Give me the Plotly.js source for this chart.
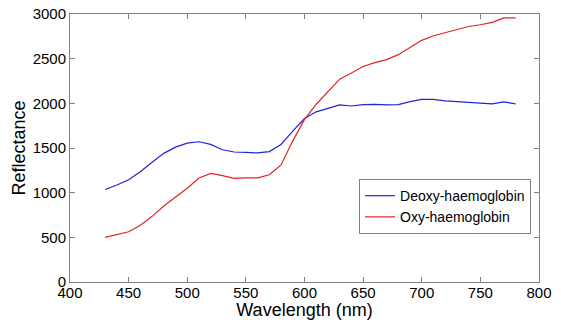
<!DOCTYPE html>
<html>
<head>
<meta charset="utf-8">
<script src="https://cdn.plot.ly/plotly-3.0.1.min.js"></script>
<style>html,body{margin:0;padding:0;background:#fff;}#chart{width:561px;height:320px;}</style>
</head>
<body>
<div id="chart"></div>
<script>
var wavelength = [430,440,450,460,470,480,490,500,510,520,530,540,550,560,570,580,590,600,610,620,630,640,650,660,670,680,690,700,710,720,730,740,750,760,770,780];
var deoxy = [1035,1085,1145,1235,1340,1440,1510,1555,1570,1540,1480,1455,1450,1445,1460,1540,1690,1830,1905,1945,1983,1970,1985,1988,1982,1985,2020,2045,2045,2028,2020,2012,2005,1994,2017,1994];
var oxy = [500,530,562,636,735,850,950,1050,1165,1215,1190,1160,1165,1165,1200,1310,1580,1820,1990,2130,2270,2340,2413,2455,2490,2545,2630,2705,2757,2790,2825,2860,2880,2907,2956,2956];
var seriesNames = ['Deoxy-haemoglobin','Oxy-haemoglobin'];
var xTicks = [400,450,500,550,600,650,700,750,800];
var yTicks = [0,500,1000,1500,2000,2500,3000];

var font = 'Arial, "Liberation Sans", sans-serif';
var traces = [
  {x: wavelength, y: deoxy, name: seriesNames[0], mode: 'lines', line: {color: 'rgb(35,35,215)', width: 1.2}},
  {x: wavelength, y: oxy, name: seriesNames[1], mode: 'lines', line: {color: 'rgb(225,35,35)', width: 1.2}}
];
var axisCommon = {
  showgrid: false, zeroline: false, showline: true, linecolor: '#808080', linewidth: 1,
  mirror: 'ticks', ticks: 'inside', ticklen: 5, tickcolor: '#808080', tickwidth: 1,
  tickfont: {family: font, size: 15, color: '#000'}
};
var layout = {
  width: 561, height: 320,
  margin: {l: 70, r: 22, t: 14, b: 38},
  paper_bgcolor: '#fff', plot_bgcolor: '#fff',
  showlegend: true,
  legend: {x: 0.983, y: 0.384, xanchor: 'right', yanchor: 'top', bgcolor: '#fff',
    bordercolor: '#808080', borderwidth: 1, font: {family: font, size: 14, color: '#000'},
    itemwidth: 30, tracegroupgap: 0},
  xaxis: Object.assign({}, axisCommon, {range: [400, 800], tickvals: xTicks, ticktext: xTicks.map(String),
    ticklabelstandoff: -3,
    title: {text: 'Wavelength (nm)', font: {family: font, size: 18, color: '#000'}, standoff: 0}}),
  yaxis: Object.assign({}, axisCommon, {range: [0, 3000], tickvals: yTicks, ticktext: yTicks.map(String),
    title: {text: 'Reflectance', font: {family: font, size: 18, color: '#000'}, standoff: 2}})
};
Plotly.newPlot('chart', traces, layout, {displayModeBar: false, staticPlot: true});
</script>
</body>
</html>
